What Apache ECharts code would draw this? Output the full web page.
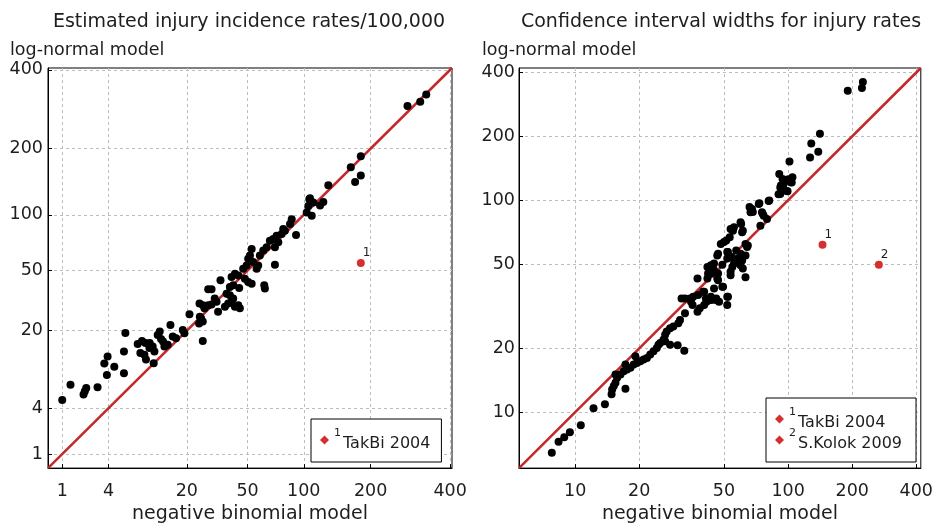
<!DOCTYPE html>
<html>
<head>
<meta charset="utf-8">
<script src="https://cdn.jsdelivr.net/npm/echarts@6/dist/echarts.min.js"></script>
<style>
html,body{margin:0;padding:0;background:#fff;}
#chart{width:936px;height:529px;}
</style>
</head>
<body>
<div id="chart"></div>
<script>
// ---------- data ----------
const leftTitle = 'Estimated injury incidence rates/100,000';
const rightTitle = 'Confidence interval widths for injury rates';
const xName = 'negative binomial model';
const yName = 'log-normal model';

const leftTicks = [1, 4, 20, 50, 100, 200, 400];
const rightTicks = [10, 20, 50, 100, 200, 400];
const leftRange = [0.58, 406];
const rightRange = [5.45, 420];

// left panel: estimated rates (x = negative binomial, y = log-normal)
const leftNB = [1.0, 1.33, 2.01, 2.09, 2.18, 3.0, 3.84, 3.59, 3.91, 4.62, 5.81, 5.81, 6.0,
  7.88, 8.63, 9.26, 8.34, 9.07, 9.37, 10.05, 10.73, 11.1, 10.94, 11.83, 12.61, 13.44, 14.29,
  15.02, 15.66, 16.61, 18.68, 19.23, 20.93, 24.67, 25.31, 26.0, 26.0, 26.7, 10.1, 13.1, 12.3,
  24.8, 24.5, 26.1, 28.3, 29.8, 28.3, 29.8, 31.3, 32.15, 32.9, 34.1, 36.4, 38.15, 40.05, 42.0,
  44.0, 45.0, 37.3, 39.1, 41.0, 39.1, 41.0, 40.05, 42.0, 44.0, 44.6, 48.2, 50.4, 52.8, 47.1,
  49.3, 50.4, 51.6, 52.8, 53.9, 56.4, 57.55, 62.2, 62.7, 58.8, 61.4, 64.1, 66.8, 69.6, 72.6,
  74.1, 71.1, 71.1, 77.2, 80.3, 85.3, 87.0, 91.5, 78.7, 103.3, 105.2, 106.4, 107.2, 111.2,
  119.7, 124.0, 109.3, 130.8, 164.8, 181.9, 181.9, 172.0, 280, 312.5, 328.8];
const leftLN = [4.9, 7.0, 5.6, 6.05, 6.5, 6.6, 8.65, 10.9, 12.5, 10.25, 8.96, 13.8, 19.2,
  15.8, 16.7, 16.1, 13.4, 12.95, 11.8, 14.7, 15.1, 13.8, 11.0, 18.6, 17.3, 15.1, 15.6,
  22.0, 18.1, 17.5, 20.2, 19.1, 26.2, 31.0, 24.6, 23.3, 16.7, 28.8, 16.1, 16.55, 19.7,
  25.2, 22.6, 30.25, 30.25, 30.6, 38.4, 38.4, 33.5, 31.9, 27.3, 43.6, 29.5, 31.05, 31.9, 29.5,
  30.25, 28.8, 36.0, 35.2, 33.5, 39.7, 40.6, 45.7, 47.8, 46.7, 39.1, 44.6, 42.6, 41.6, 51.2,
  53.5, 58.4, 60.9, 66.3, 55.9, 51.2, 53.5, 40.6, 38.8, 60.9, 64.9, 67.8, 73.5, 75.1, 78.1,
  72.1, 67.8, 54.0, 79.7, 83.0, 89.8, 95.1, 78.8, 84.6, 102.6, 110.5, 118.9, 120.2, 114.7,
  110.9, 115.5, 98.8, 138.1, 166.5, 185.5, 153.1, 142.9, 295, 306.5, 326.3];

// right panel: confidence interval widths
const rightNB = [7.77, 8.36, 8.89, 9.45, 10.63, 12.2, 13.8, 14.83, 14.92, 15.19, 15.47, 17.23,
  15.74, 16.33, 16.92, 17.53, 18.18, 18.84, 19.52, 20.24, 20.97, 21.73, 22.53, 23.34, 24.18,
  25.08, 25.98, 26.46, 15.47, 17.23, 19.18, 30.29, 32.55, 24.63, 26.46, 27.92,
  26.92, 27.92, 28.92, 30.52, 31.08, 32.8,
  35.0, 35.6, 37.55, 40.35, 37.55, 40.35, 41.1, 43.4, 45.75, 47.4, 51.8, 51.8, 44.9, 49.1,
  41.8, 43.4, 46.5, 46.9, 41.8, 43.4, 44.9, 46.5, 44.9, 49.1, 51.8, 53.7, 53.7, 54.7, 55.7,
  63.1, 59.8, 60.85, 59.8, 63.1, 64.2, 63.1, 48.3, 50.0, 51.8, 53.7, 55.7, 59.8, 60.85, 66.6,
  67.7, 72.8, 75.4, 76.8, 79.6, 74.1, 81.0, 90.2, 91.9, 95.2, 98.6, 104.0, 100.4,
  60.2, 61.3, 55.1, 51.25, 53.2, 46.9, 52.2, 54.1, 57.05, 58.1, 61.3, 64.7, 42.9, 42.1, 46.9,
  49.5, 52.2, 46.0, 43.6, 41.4, 38.5, 39.9, 37.8, 35.85, 34.6, 32.8, 31.6,
  224.5, 222.2, 190.6, 141.1, 128.5, 138.6, 126.8, 101.5, 90.9, 94.2, 104.8, 102.9, 92.5,
  91.9, 99.4, 81.6, 73.3, 65.9, 68.3, 76.0];
const rightLN = [6.43, 7.25, 7.61, 8.04, 8.69, 10.43, 10.9, 12.14, 12.81, 13.29, 13.77, 12.91,
  14.54, 15.06, 15.62, 15.89, 16.19, 16.77, 17.08, 17.4, 17.7, 18.03, 18.69, 19.38, 20.08,
  21.2, 21.96, 23.17, 15.06, 16.77, 18.36, 20.7, 19.49, 20.81, 21.6, 20.8,
  24.04, 24.91, 25.37, 26.29, 27.24, 29.28,
  33.2, 32.0, 29.8, 32.0, 42.7, 37.0, 34.4, 35.0, 33.8, 33.2, 35.0, 32.0, 38.3, 39.0,
  42.7, 45.0, 42.7, 41.9, 48.4, 49.3, 46.7, 54.9, 50.2, 49.6, 53.0, 44.2, 45.9, 48.4, 50.2,
  43.3, 49.3, 52.0, 55.9, 54.9, 60.1, 62.2, 62.2, 63.4, 56.9, 73.2, 74.5, 78.6, 70.6, 87.6,
  90.8, 95.8, 87.6, 84.5, 81.5, 75.8, 99.2, 106.7, 114.7, 118.8, 110.5, 121.0, 125.4,
  77.2, 71.8, 71.8, 64.5, 66.9, 55.9, 56.9, 53.9, 57.9, 53.0, 47.6, 61.1, 47.6, 45.05, 45.05,
  39.0, 35.0, 34.4, 33.8, 33.2, 30.9, 37.0, 35.67, 35.0, 34.4, 34.4, 34.4,
  360.6, 338.0, 328.2, 205.8, 184.8, 169.0, 158.9, 152.2, 132.8, 125.8, 128.1, 121.4, 117.2,
  107.0, 110.2, 99.7, 96.8, 92.8, 87.9, 86.3];

// highlighted studies
const leftOutNames = ['TakBi 2004'];
const leftOutNB = [181.9];
const leftOutLN = [55.2];
const rightOutNames = ['TakBi 2004', 'S.Kolok 2009'];
const rightOutNB = [145.1, 266.7];
const rightOutLN = [61.6, 49.6];

// ---------- chart ----------
const FONT = 'DejaVu Sans';
const TXT = '#1e1e1e';
const RED = '#c4282b';
const DOT_RED = '#d3302f';
const root4 = v => Math.pow(v, 0.25);   // left panel uses a fourth-root scale

const gridLine = { show: true, lineStyle: { color: '#bdbdbd', type: [3, 3], width: 1 } };
const axisLine = { show: true, lineStyle: { color: '#000', width: 1 } };

function leftAxis(isX) {
  const tv = leftTicks.map(root4);
  return {
    type: 'value', gridIndex: 0,
    min: root4(leftRange[0]), max: root4(leftRange[1]),
    axisLine: axisLine,
    axisTick: { show: true, inside: true, length: 4, customValues: tv, lineStyle: { color: '#000' } },
    axisLabel: { customValues: tv, formatter: u => String(Math.round(Math.pow(u, 4))),
      fontFamily: FONT, fontSize: 17.5, color: TXT, margin: isX ? 14 : 5 },
    splitLine: gridLine,
    name: isX ? xName : '', nameLocation: 'middle', nameGap: 36,
    nameTextStyle: { fontFamily: FONT, fontSize: 19, color: TXT }
  };
}
function rightAxis(isX) {
  return {
    type: 'log', logBase: 10, gridIndex: 1,
    min: rightRange[0], max: rightRange[1],
    axisLine: axisLine,
    axisTick: { show: true, inside: true, length: 4, customValues: rightTicks, lineStyle: { color: '#000' } },
    axisLabel: { customValues: rightTicks, formatter: v => String(Math.round(v)),
      fontFamily: FONT, fontSize: 17.5, color: TXT, margin: isX ? 14 : 4 },
    splitLine: gridLine,
    minorTick: { show: false }, minorSplitLine: { show: false },
    name: isX ? xName : '', nameLocation: 'middle', nameGap: 36,
    nameTextStyle: { fontFamily: FONT, fontSize: 19, color: TXT }
  };
}

function legendFor(names, box) {
  return {
    orient: 'vertical', left: box.left, top: box.top, padding: box.padding,
    itemGap: -3, itemWidth: 9, itemHeight: 9, icon: 'diamond',
    borderColor: '#000', borderWidth: 1, backgroundColor: '#fff', borderRadius: 0,
    selectedMode: false, data: names,
    formatter: name => '{s|' + (names.indexOf(name) + 1) + '}{t|' + name + '}',
    textStyle: {
      fontFamily: FONT, color: TXT,
      rich: {
        s: { fontFamily: FONT, fontSize: 11, lineHeight: 11, padding: [0, 2, 13, 0], color: TXT },
        t: { fontFamily: FONT, fontSize: 16, lineHeight: 16, padding: [8, 0, 0, 0], color: TXT }
      }
    }
  };
}

const series = [];
// diagonals
series.push({
  type: 'line', xAxisIndex: 0, yAxisIndex: 0, z: 1, silent: true, symbol: 'none',
  data: [[root4(leftRange[0]), root4(leftRange[0])], [root4(leftRange[1]), root4(leftRange[1])]],
  lineStyle: { color: RED, width: 2.5 }
});
series.push({
  type: 'line', xAxisIndex: 1, yAxisIndex: 1, z: 1, silent: true, symbol: 'none',
  data: [[rightRange[0], rightRange[0]], [rightRange[1], rightRange[1]]],
  lineStyle: { color: RED, width: 2.5 }
});
// main points
series.push({
  type: 'scatter', xAxisIndex: 0, yAxisIndex: 0, z: 3, symbolSize: 8,
  itemStyle: { color: '#000', opacity: 1 },
  data: leftNB.map((x, i) => [root4(x), root4(leftLN[i])])
});
series.push({
  type: 'scatter', xAxisIndex: 1, yAxisIndex: 1, z: 3, symbolSize: 8,
  itemStyle: { color: '#000', opacity: 1 },
  data: rightNB.map((x, i) => [x, rightLN[i]])
});
// highlighted studies
const outLabel = n => ({ show: true, formatter: String(n), position: [6, -12],
  fontFamily: FONT, fontSize: 12, color: TXT });
leftOutNames.forEach((name, i) => series.push({
  name: name, type: 'scatter', xAxisIndex: 0, yAxisIndex: 0, z: 4, symbolSize: 8,
  itemStyle: { color: DOT_RED, opacity: 1 }, label: outLabel(i + 1),
  data: [[root4(leftOutNB[i]), root4(leftOutLN[i])]]
}));
rightOutNames.forEach((name, i) => series.push({
  name: name, type: 'scatter', xAxisIndex: 1, yAxisIndex: 1, z: 4, symbolSize: 8,
  itemStyle: { color: DOT_RED, opacity: 1 }, label: outLabel(i + 1),
  data: [[rightOutNB[i], rightOutLN[i]]]
}));

const titleStyle = { fontFamily: FONT, fontSize: 19, fontWeight: 'normal', color: TXT };
const nameStyle = { fontFamily: FONT, fontSize: 17.5, fontWeight: 'normal', color: TXT };

const option = {
  animation: false,
  backgroundColor: '#fff',
  title: [
    { text: leftTitle, left: 249, top: 13, textAlign: 'center', padding: 0, textStyle: titleStyle },
    { text: rightTitle, left: 721, top: 13, textAlign: 'center', padding: 0, textStyle: titleStyle },
    { text: yName, left: 10, top: 41, padding: 0, textStyle: nameStyle },
    { text: yName, left: 482, top: 41, padding: 0, textStyle: nameStyle }
  ],
  grid: [
    { left: 48, top: 68, width: 404, height: 402, show: true, borderColor: '#000', borderWidth: 1, backgroundColor: 'transparent' },
    { left: 519, top: 68, width: 406, height: 403, show: true, borderColor: '#000', borderWidth: 1, backgroundColor: 'transparent' }
  ],
  xAxis: [leftAxis(true), rightAxis(true)],
  yAxis: [leftAxis(false), rightAxis(false)],
  legend: [
    legendFor(leftOutNames, { left: 311, top: 419, padding: [9, 11, 10, 9] }),
    legendFor(rightOutNames, { left: 766, top: 398, padding: [9, 14, 10, 9] })
  ],
  series: series
};

const chart = echarts.init(document.getElementById('chart'), null, { renderer: 'canvas' });
chart.setOption(option);
</script>
</body>
</html>
